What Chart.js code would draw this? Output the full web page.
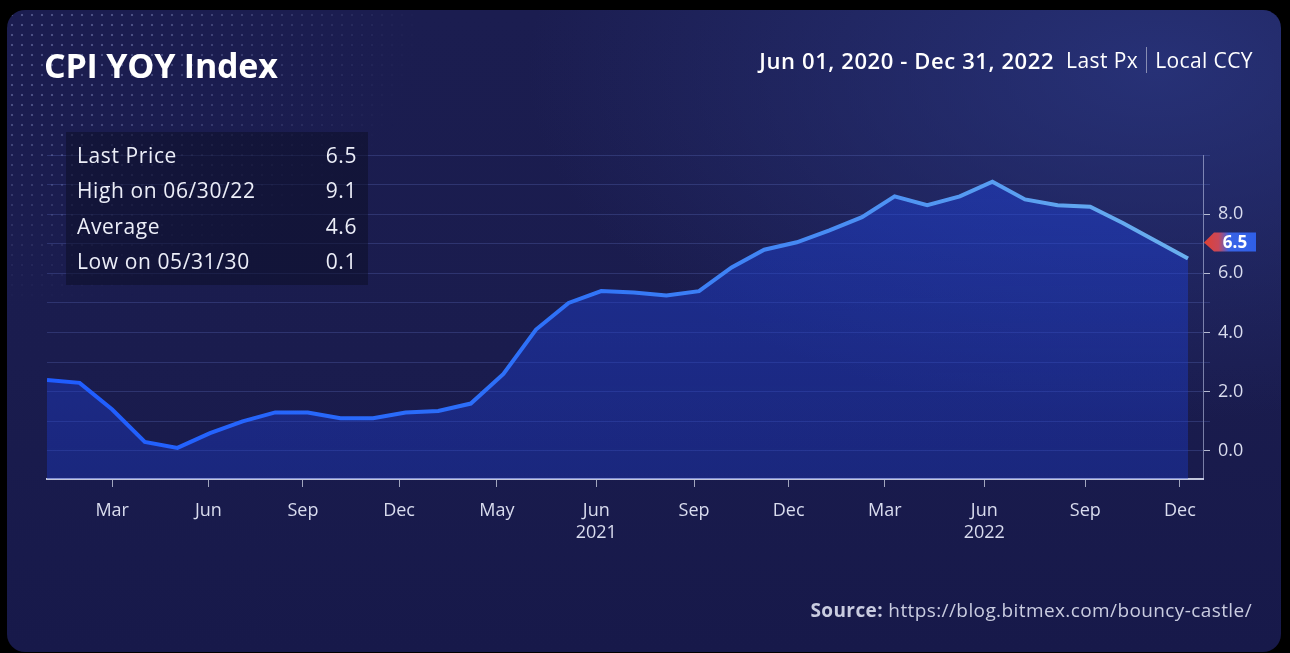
<!DOCTYPE html>
<html>
<head>
<meta charset="utf-8">
<script src="https://cdn.jsdelivr.net/npm/chart.js@4.4.1/dist/chart.umd.min.js"></script>
<style>
  html, body { margin: 0; padding: 0; background: #000; width: 1290px; height: 653px; overflow: hidden; font-family: "Open Sans", sans-serif; }
  #card {
    position: absolute; left: 7px; top: 10px; width: 1274px; height: 642px;
    border-radius: 18px; overflow: hidden;
    background:
      radial-gradient(ellipse 900px 500px at 1150px 60px, rgba(42,54,128,0.8), rgba(42,54,128,0) 70%),
      linear-gradient(180deg, #1b1d50 0%, #1a1c4e 55%, #17194a 100%);
  }
  #dots {
    position: absolute; left: 0; top: 0; width: 420px; height: 320px;
    background-image: radial-gradient(circle, rgba(170,180,230,0.35) 1px, transparent 1.6px);
    background-size: 10px 10px;
    -webkit-mask-image: radial-gradient(ellipse 420px 300px at 0 0, #000 30%, transparent 100%);
    mask-image: radial-gradient(ellipse 420px 300px at 0 0, #000 30%, transparent 100%);
  }
  #c { position: absolute; left: 0; top: 0; }
  .title { position: absolute; left: 44px; top: 42px; color: #fff; font-weight: 700; font-size: 34px; letter-spacing: -0.2px; }
  .hdr { position: absolute; right: 37px; top: 45px; color: #fff; font-size: 21px; letter-spacing: 0.4px; white-space: nowrap; display: flex; align-items: center; }
  .hdr b { font-weight: 600; font-size: 22px; letter-spacing: 0.6px; margin-right: 12px; }
  .hdr .sep { display: inline-block; width: 1px; height: 26px; background: rgba(255,255,255,0.45); margin: 0 8px; }
  .stats { position: absolute; left: 66px; top: 132px; width: 302px; height: 153px; background: rgba(12,14,40,0.55); }
  .row { position: absolute; left: 11px; right: 11px; height: 30px; color: #eceef8; font-size: 21px; letter-spacing: 0.6px; }
  .row span:last-child { position: absolute; right: 0; }
  .src { position: absolute; right: 38px; top: 597px; color: #c9cce0; font-size: 19px; letter-spacing: 0.4px; }
  .src b { font-weight: 700; }
</style>
</head>
<body>
<div id="card"><div id="dots"></div></div>
<canvas id="c" width="1290" height="653"></canvas>
<div class="title">CPI YOY Index</div>
<div class="hdr"><b>Jun 01, 2020 - Dec 31, 2022</b>Last Px<span class="sep"></span>Local CCY</div>
<div class="stats" id="stats"></div>
<div class="src"><b>Source:</b> https://blog.bitmex.com/bouncy-castle/</div>
<script>
// meses Jan 2020 .. Dec 2022 (indice 0..35)
const MONTHS = ['Jan 20','Feb 20','Mar 20','Apr 20','May 20','Jun 20','Jul 20','Aug 20','Sep 20','Oct 20','Nov 20','Dec 20',
  'Jan 21','Feb 21','Mar 21','Apr 21','May 21','Jun 21','Jul 21','Aug 21','Sep 21','Oct 21','Nov 21','Dec 21',
  'Jan 22','Feb 22','Mar 22','Apr 22','May 22','Jun 22','Jul 22','Aug 22','Sep 22','Oct 22','Nov 22','Dec 22'];
const CPI = [2.4, 2.3, 1.4, 0.3, 0.1, 0.6, 1.0, 1.3, 1.3, 1.1, 1.1, 1.3,
  1.35, 1.6, 2.6, 4.1, 5.0, 5.4, 5.35, 5.25, 5.4, 6.2, 6.8, 7.05,
  7.45, 7.9, 8.6, 8.3, 8.6, 9.1, 8.5, 8.3, 8.25, 7.7, 7.1, 6.5];
// posicion de los ticks del eje x en unidades de mes
const X_TICKS = [2.0, 4.95, 7.85, 10.8, 13.8, 16.85, 19.85, 22.75, 25.7, 28.75, 31.85, 34.75];
const X_TICK_LABELS = ['Mar', 'Jun', 'Sep', 'Dec', 'May', ['Jun', '2021'], 'Sep', 'Dec', 'Mar', ['Jun', '2022'], 'Sep', 'Dec'];
const Y_TICKS = [0, 1, 2, 3, 4, 5, 6, 7, 8, 9, 10];
const STATS_LABELS = ['Last Price', 'High on 06/30/22', 'Average', 'Low on 05/31/30'];
const STATS_VALUES = ['6.5', '9.1', '4.6', '0.1'];
const LAST_VALUE = 6.5;

// tabla de estadisticas
const STATS = document.getElementById('stats');
STATS_LABELS.forEach((lbl, i) => {
  const r = document.createElement('div');
  r.className = 'row';
  r.style.top = (9 + i * 35.3) + 'px';
  r.innerHTML = '<span>' + lbl + '</span><span>' + STATS_VALUES[i] + '</span>';
  STATS.appendChild(r);
});

const points = CPI.map((v, i) => ({ x: i, y: v }));

// etiqueta del ultimo precio a la derecha
const lastTag = {
  id: 'lastTag',
  afterDraw(chart) {
    const y = chart.scales.y.getPixelForValue(LAST_VALUE) - 16;
    const x0 = chart.chartArea.right;
    const c = chart.ctx;
    c.save();
    const g = c.createLinearGradient(x0, 0, x0 + 52, 0);
    g.addColorStop(0, '#e2402f');
    g.addColorStop(0.3, '#c8485a');
    g.addColorStop(0.5, '#3a64e6');
    g.addColorStop(1, '#2f5fe8');
    c.fillStyle = g;
    c.beginPath();
    c.moveTo(x0 + 1, y);
    c.lineTo(x0 + 11, y - 10);
    c.lineTo(x0 + 53, y - 10);
    c.lineTo(x0 + 53, y + 9);
    c.lineTo(x0 + 11, y + 9);
    c.closePath();
    c.fill();
    c.fillStyle = '#fff';
    c.font = '700 17px "Open Sans"';
    c.textAlign = 'center';
    c.textBaseline = 'middle';
    c.fillText(LAST_VALUE.toFixed(1), x0 + 32, y + 1);
    c.restore();
  }
};

new Chart(document.getElementById('c'), {
  type: 'line',
  data: {
    datasets: [{
      data: points,
      borderWidth: 4,
      pointRadius: 0,
      tension: 0,
      fill: 'start',
      borderColor: (ctx) => {
        const ca = ctx.chart.chartArea;
        if (!ca) return '#2f6bff';
        const g = ctx.chart.ctx.createLinearGradient(ca.left, 0, ca.right, 0);
        g.addColorStop(0, '#1f5cff');
        g.addColorStop(0.45, '#2f72f8');
        g.addColorStop(1, '#6cb2ee');
        return g;
      },
      backgroundColor: (ctx) => {
        const ca = ctx.chart.chartArea;
        if (!ca) return 'rgba(30,60,210,0.45)';
        const g = ctx.chart.ctx.createLinearGradient(0, ca.top, 0, ca.bottom);
        g.addColorStop(0, 'rgba(32,66,215,0.5)');
        g.addColorStop(1, 'rgba(30,58,200,0.4)');
        return g;
      }
    }]
  },
  options: {
    responsive: false,
    animation: false,
    layout: { padding: { left: 47, top: 155, right: 0, bottom: 0 } },
    plugins: { legend: { display: false }, tooltip: { enabled: false } },
    scales: {
      x: {
        type: 'linear',
        min: 0,
        max: 35.46,
        afterBuildTicks: (s) => { s.ticks = X_TICKS.map(v => ({ value: v })); },
        afterFit: (s) => { s.height = 653 - 479; },
        grid: { drawOnChartArea: false, tickLength: 8, tickColor: 'rgba(220,225,240,0.7)', tickWidth: 1 },
        border: { color: 'rgba(225,228,245,0.85)', width: 2 },
        ticks: {
          autoSkip: false,
          maxRotation: 0,
          padding: 13,
          color: '#d9dcee',
          font: { family: 'Open Sans', size: 18 },
          callback: (v) => X_TICK_LABELS[X_TICKS.indexOf(v)]
        }
      },
      y: {
        position: 'right',
        min: -0.95,
        max: 10,
        afterBuildTicks: (s) => { s.ticks = Y_TICKS.map(v => ({ value: v })); },
        afterFit: (s) => { s.width = 1290 - 1203; },
        grid: {
          color: 'rgba(120,140,230,0.22)',
          lineWidth: 1,
          tickLength: 7,
          tickColor: (ctx) => (ctx.tick && ctx.tick.value % 2 === 0 && ctx.tick.value < 10) ? 'rgba(220,225,240,0.8)' : 'rgba(120,140,230,0.22)'
        },
        border: { color: 'rgba(200,208,240,0.55)', width: 1 },
        ticks: {
          padding: 8,
          color: '#d9dcee',
          font: { family: 'Open Sans', size: 18 },
          callback: (v) => (v % 2 === 0 && v < 10 ? v.toFixed(1) : '')
        }
      }
    }
  },
  plugins: [lastTag]
});
</script>
</body>
</html>
